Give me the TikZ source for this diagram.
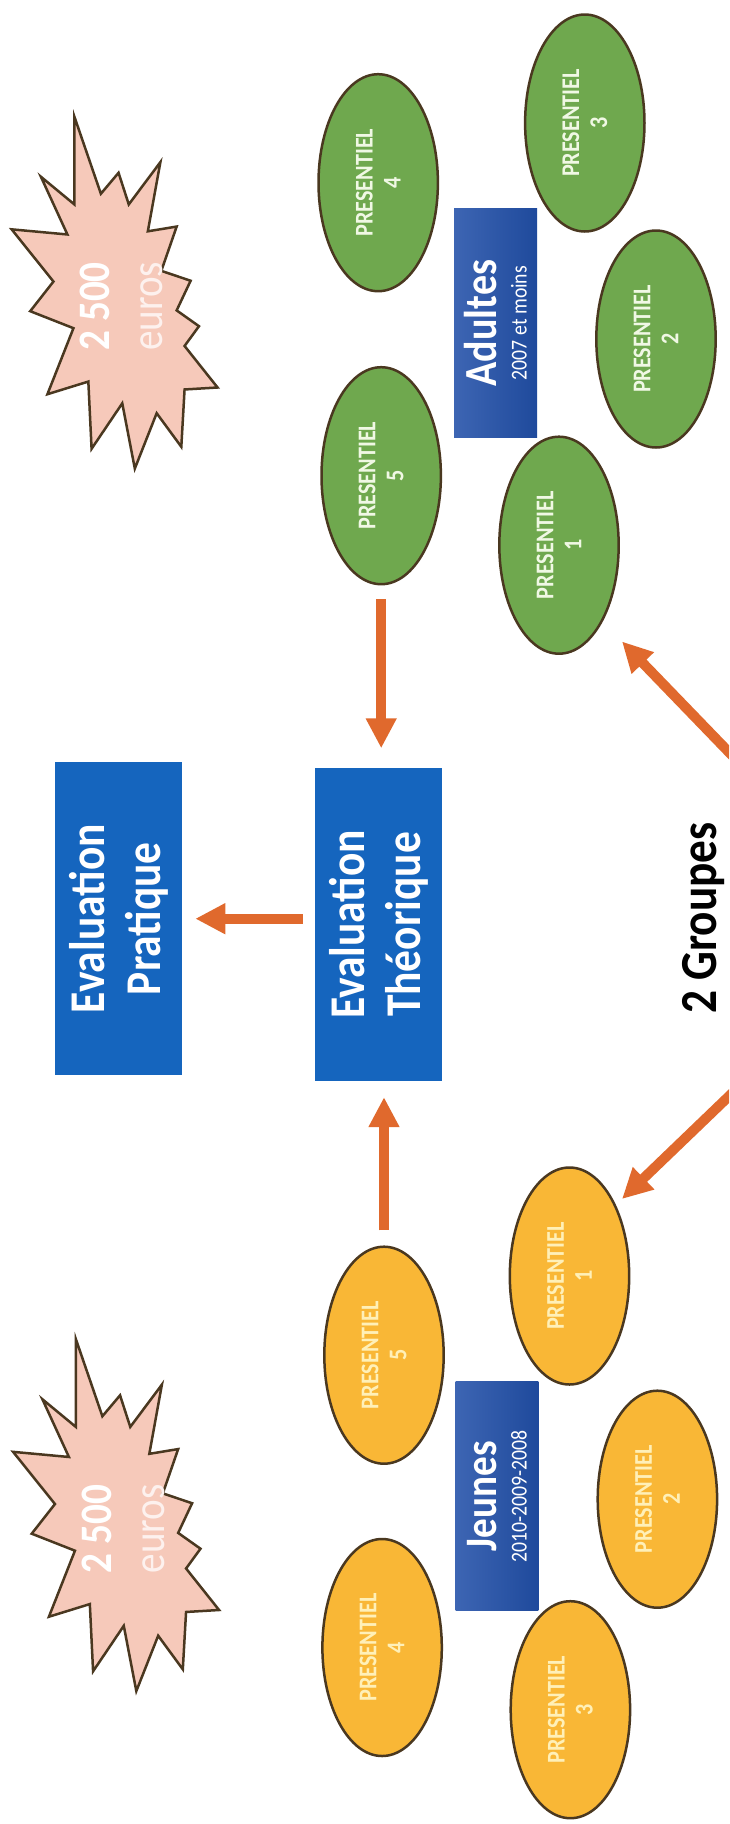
\documentclass[tikz,border=0pt]{standalone}
\usepackage{fontspec}
\setmainfont[FakeStretch=0.87]{Carlito}
\usetikzlibrary{shapes.geometric,arrows.meta,calc}
\definecolor{grn}{HTML}{6FA84E}
\definecolor{org}{HTML}{F9B736}
\definecolor{bluebox}{HTML}{1565BE}
\definecolor{bluedl}{HTML}{3D65B3}
\definecolor{bluedd}{HTML}{1F4A9C}
\definecolor{arrowc}{HTML}{E0692D}
\definecolor{burstc}{HTML}{F6C9BA}
\definecolor{edge}{HTML}{4A3820}
\definecolor{grntxt}{HTML}{F0F8E4}
\definecolor{orgtxt}{HTML}{FFF0B8}
\tikzset{
  ovalnode/.style={ellipse,draw=edge,line width=2.5pt,rotate=90,minimum width=217pt,minimum height=119.4pt,inner sep=0pt,align=center,font=\fontsize{25.5}{28}\selectfont\bfseries},
  greenoval/.style={ovalnode,fill=grn,text=grntxt},
  orangeoval/.style={ovalnode,fill=org,text=orgtxt},
  evalbox/.style={rectangle,fill=bluebox,text=white,rotate=90,minimum width=313.3pt,minimum height=126.7pt,inner sep=0pt,align=center,font=\fontsize{50}{56}\selectfont\bfseries},
  groupbox/.style={rectangle,left color=bluedl,right color=bluedd,text=white,rotate=90,minimum width=229pt,minimum height=82.8pt,inner sep=0pt,align=center,font=\fontsize{22.7}{30}\selectfont},
  flow/.style={draw=arrowc,line width=10pt,-{Triangle[width=29pt,length=30pt]}},
  burstshape/.style={draw=edge,line width=2.5pt,fill=burstc,line join=miter},
  burstlabel/.style={rotate=90,align=center,inner sep=0pt,text=white,font=\fontsize{45}{53}\selectfont}
}
\newcommand{\burstpath}{(160,295) -- (217,490) -- (255,437) -- (277,517) -- (345,410) -- (318,585) -- (380,573) -- (347,685) -- (410,710) -- (380,785) -- (428,825) -- (397,875) -- (468,980) -- (397,985) -- (390,1130) -- (337,1045) -- (290,1185) -- (263,1020) -- (197,1135) -- (190,965) -- (102,997) -- (158,830) -- (65,787) -- (115,712) -- (25,580) -- (145,593) -- (88,447) -- (160,517) -- cycle}
\newcommand{\burstlines}{{\bfseries 2 500}\\{\color{burstc!25!white}euros}}
\begin{document}
\begin{tikzpicture}[x=1pt,y=-1pt]
\clip (0,0) rectangle (729,1824);
\fill[white] (0,0) rectangle (729,1824);
% bursts
\begin{scope}[x=0.4649pt,y=-0.3954pt]
\draw[burstshape] \burstpath;
\end{scope}
\begin{scope}[shift={(1.5,1222.5)},x=0.4649pt,y=-0.3954pt]
\draw[burstshape] \burstpath;
\end{scope}
\node[burstlabel] (bursttop) at (121.5,306.4) {\burstlines};
\node[burstlabel] (burstbot) at (123,1528.9) {\burstlines};
% green group
\node[greenoval] (g1) at (559,545.2) {PRESENTIEL\\1};
\node[greenoval] (g2) at (656,339) {PRESENTIEL\\2};
\node[greenoval] (g3) at (584.8,123) {PRESENTIEL\\3};
\node[greenoval] (g4) at (378.2,182.7) {PRESENTIEL\\4};
\node[greenoval] (g5) at (381.2,475.7) {PRESENTIEL\\5};
\node[groupbox] (adultes) at (495.6,323) {{\fontsize{46}{46}\selectfont\bfseries Adultes}\\{2007 et moins}};
% orange group
\node[orangeoval] (o1) at (569.5,1276) {PRESENTIEL\\1};
\node[orangeoval] (o2) at (657.4,1499.2) {PRESENTIEL\\2};
\node[orangeoval] (o3) at (570.4,1709.7) {PRESENTIEL\\3};
\node[orangeoval] (o4) at (382.1,1647.5) {PRESENTIEL\\4};
\node[orangeoval] (o5) at (384,1355.2) {PRESENTIEL\\5};
\node[groupbox] (jeunes) at (497,1496.2) {{\fontsize{45}{45}\selectfont\bfseries Jeunes}\\{2010-2009-2008}};
% evaluations
\node[evalbox] (pratique) at (118.75,918.7) {Evaluation\\Pratique};
\node[evalbox] (theorique) at (378.5,924.5) {Evaluation\\Théorique};
\node[rotate=90,inner sep=0pt,font=\fontsize{52}{56}\selectfont\bfseries,text=black] (groupes) at (704,918) {2 Groupes};
% connectors
\coordinate (srcA) at (750.4,774.4);
\coordinate (tipA) at (622,641.5);
\coordinate (srcB) at (750.4,1075.6);
\coordinate (tipB) at (622,1199);
\draw[flow,shorten <=14pt,shorten >=19.4pt] (g5.west) -- (g5.west |- theorique.east);
\draw[flow,shorten <=15pt,shorten >=15.8pt] (o5.east) -- (o5.east |- theorique.west);
\draw[flow,shorten <=12pt,shorten >=13pt] (theorique.north |- pratique.south) -- (pratique.south);
\draw[flow] (srcA) -- (tipA);
\draw[flow] (srcB) -- (tipB);
\end{tikzpicture}
\end{document}
